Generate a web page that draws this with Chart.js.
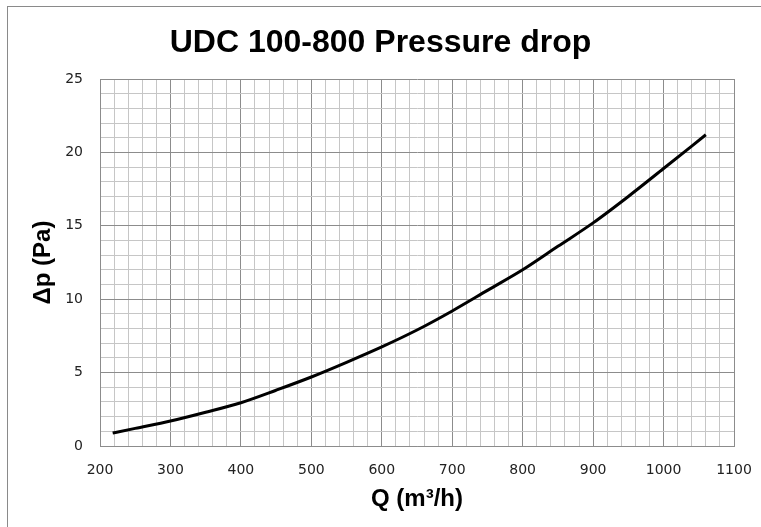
<!DOCTYPE html>
<html>
<head>
<meta charset="utf-8">
<script src="https://cdn.jsdelivr.net/npm/chart.js@4.4.1/dist/chart.umd.min.js"></script>
<style>
  html, body { margin: 0; padding: 0; background: #fff; overflow: hidden; }
  #frame { position: absolute; left: 7px; top: 6px; width: 800px; height: 600px; border: 1px solid #8a8a8a; }
  #wrap { position: absolute; left: 0; top: 0; width: 761px; height: 527px; }
</style>
</head>
<body>
<div id="frame"></div>
<div id="wrap"><canvas id="pdChart" width="761" height="527"></canvas></div>
<script>
// ===== Data =====
const flowQ = [218, 250, 300, 350, 400, 450, 500, 550, 600, 650, 700, 750, 800, 850, 900, 950, 1000, 1060];
const pressureDrop = [0.88, 1.2, 1.7, 2.3, 2.95, 3.8, 4.7, 5.7, 6.75, 7.9, 9.2, 10.6, 12.0, 13.6, 15.2, 17.0, 18.9, 21.2];
const xTickLabels = [200, 300, 400, 500, 600, 700, 800, 900, 1000, 1100];
const yTickLabels = [0, 5, 10, 15, 20, 25];

const majorGrid = '#8c8c8c';
const minorGrid = '#c6c6c6';
const tickFont = { family: "'DejaVu Sans', sans-serif", size: 14 };
const titleFont = { family: "'Liberation Sans', Arial, sans-serif", size: 24, weight: 'bold', lineHeight: 1.2 };

new Chart(document.getElementById('pdChart').getContext('2d'), {
  type: 'line',
  data: {
    datasets: [{
      data: flowQ.map((q, i) => ({ x: q, y: pressureDrop[i] })),
      borderColor: '#000',
      borderWidth: 3,
      pointRadius: 0,
      fill: false,
      cubicInterpolationMode: 'monotone',
    }]
  },
  options: {
    responsive: false,
    animation: false,
    layout: { padding: 0 },
    plugins: {
      legend: { display: false },
      tooltip: { enabled: false },
      title: {
        display: true,
        text: 'UDC 100-800 Pressure drop',
        color: '#000',
        font: { family: "'Liberation Sans', Arial, sans-serif", size: 32, weight: 'bold', lineHeight: 1.2 },
        padding: { top: 24, bottom: 16.6 },
      }
    },
    scales: {
      x: {
        type: 'linear',
        min: xTickLabels[0],
        max: xTickLabels[xTickLabels.length - 1],
        afterFit: (s) => { s.height = 81; s.paddingLeft = 0; s.paddingRight = 27; },
        ticks: {
          stepSize: 20,
          autoSkip: false,
          maxRotation: 0,
          padding: 16,
          color: '#222',
          font: tickFont,
          callback: (v) => xTickLabels.includes(v) ? String(v) : '',
        },
        grid: {
          drawTicks: false,
          lineWidth: 1,
          color: (ctx) => (ctx.tick && ctx.tick.value % 100 === 0) ? majorGrid : minorGrid,
        },
        border: { display: true, color: majorGrid, width: 1 },
        title: { display: true, text: 'Q (m³/h)', color: '#000', font: titleFont, padding: 13 },
      },
      y: {
        type: 'linear',
        min: yTickLabels[0],
        max: yTickLabels[yTickLabels.length - 1],
        afterFit: (s) => { s.width = 100; },
        ticks: {
          stepSize: 1,
          autoSkip: false,
          padding: 17,
          color: '#222',
          font: tickFont,
          callback: (v) => yTickLabels.includes(v) ? String(v) : '',
        },
        grid: {
          drawTicks: false,
          lineWidth: 1,
          color: (ctx) => (ctx.tick && ctx.tick.value % 5 === 0) ? majorGrid : minorGrid,
        },
        border: { display: true, color: majorGrid, width: 1 },
        title: { display: true, text: 'Δp (Pa)', color: '#000', font: titleFont, padding: 29 },
      }
    }
  }
});
</script>
</body>
</html>
